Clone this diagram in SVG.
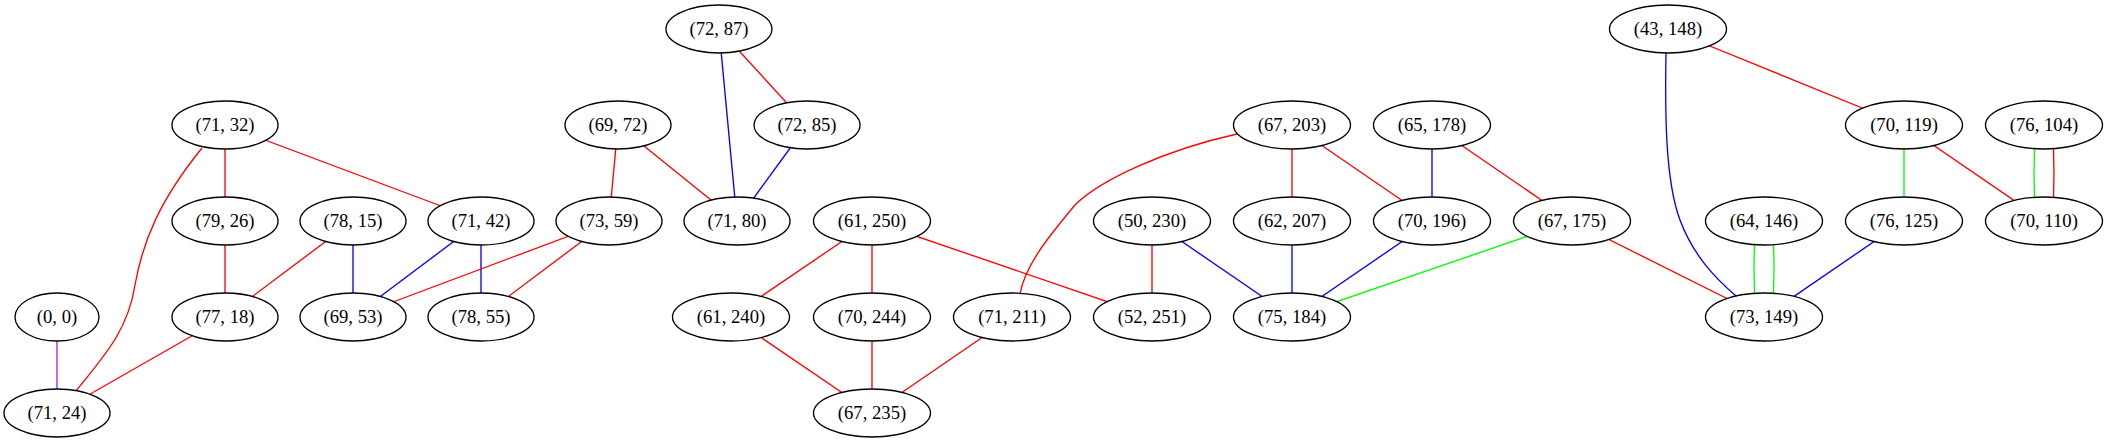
<svg xmlns="http://www.w3.org/2000/svg" width="2107" height="443" viewBox="0 0 2107 443">
<style>
.n ellipse{fill:#fff;stroke:#000;stroke-width:1.33}
.n text{font-family:'Liberation Serif','Times New Roman',serif;font-size:18.67px;text-anchor:middle;fill:#000}
.e path,.e line{fill:none;stroke-width:1.33}
.r{stroke:#ff0000}.b{stroke:#0000ff}.g{stroke:#00ff00}.p{stroke:#a020f0}
</style>
<rect width="2107" height="443" fill="#fff"/>
<g id="edges" class="e">
<line class="p" x1="57" y1="317" x2="57" y2="413"/>
<path class="r" d="M202,148 C160,200 143,240 135,285 C128,330 105,355 76,391"/>
<line class="r" x1="225" y1="317" x2="57" y2="413"/>
<line class="r" x1="225" y1="125" x2="225" y2="221"/>
<line class="r" x1="225" y1="125" x2="481" y2="221"/>
<line class="r" x1="225" y1="221" x2="225" y2="317"/>
<line class="r" x1="353" y1="221" x2="225" y2="317"/>
<line class="b" x1="353" y1="221" x2="353" y2="317"/>
<line class="b" x1="481" y1="221" x2="353" y2="317"/>
<line class="b" x1="481" y1="221" x2="481" y2="317"/>
<line class="r" x1="609" y1="221" x2="353" y2="317"/>
<line class="r" x1="609" y1="221" x2="481" y2="317"/>
<line class="r" x1="618" y1="125" x2="609" y2="221"/>
<line class="r" x1="618" y1="125" x2="737" y2="221"/>
<line class="b" x1="719" y1="29" x2="737" y2="221"/>
<line class="r" x1="719" y1="29" x2="807" y2="125"/>
<line class="b" x1="807" y1="125" x2="737" y2="221"/>
<line class="r" x1="872" y1="221" x2="731" y2="317"/>
<line class="r" x1="872" y1="221" x2="872" y2="317"/>
<line class="r" x1="872" y1="221" x2="1152" y2="317"/>
<line class="r" x1="731" y1="317" x2="872" y2="413"/>
<line class="r" x1="872" y1="317" x2="872" y2="413"/>
<line class="r" x1="1012" y1="317" x2="872" y2="413"/>
<path class="r" d="M1237,134 C1165,150 1100,180 1075,205 C1050,235 1025,265 1020,294"/>
<line class="r" x1="1292" y1="125" x2="1292" y2="221"/>
<line class="r" x1="1292" y1="125" x2="1432" y2="221"/>
<line class="r" x1="1152" y1="221" x2="1152" y2="317"/>
<line class="b" x1="1152" y1="221" x2="1292" y2="317"/>
<line class="b" x1="1292" y1="221" x2="1292" y2="317"/>
<line class="b" x1="1432" y1="221" x2="1292" y2="317"/>
<line class="b" x1="1432" y1="125" x2="1432" y2="221"/>
<line class="r" x1="1432" y1="125" x2="1572" y2="221"/>
<line class="g" x1="1572" y1="221" x2="1292" y2="317"/>
<line class="r" x1="1572" y1="221" x2="1764" y2="317"/>
<path class="b" d="M1666,53 C1665,110 1665,180 1680,220 C1693,255 1715,278 1736,296"/>
<line class="r" x1="1668" y1="29" x2="1904" y2="125"/>
<path class="g" d="M1756,221 Q1752,269 1756,317"/>
<path class="g" d="M1772,221 Q1776,269 1772,317"/>
<line class="b" x1="1904" y1="221" x2="1764" y2="317"/>
<line class="g" x1="1904" y1="125" x2="1904" y2="221"/>
<line class="r" x1="1904" y1="125" x2="2044" y2="221"/>
<path class="g" d="M2036,125 Q2032,173 2036,221"/>
<path class="r" d="M2052,125 Q2056,173 2052,221"/>
</g>
<g id="n72_87" class="n"><ellipse cx="719" cy="29" rx="53" ry="24"/><text x="719" y="35">(72, 87)</text></g>
<g id="n43_148" class="n"><ellipse cx="1668" cy="29" rx="58.5" ry="24"/><text x="1668" y="35">(43, 148)</text></g>
<g id="n71_32" class="n"><ellipse cx="225" cy="125" rx="53" ry="24"/><text x="225" y="131">(71, 32)</text></g>
<g id="n69_72" class="n"><ellipse cx="618" cy="125" rx="53" ry="24"/><text x="618" y="131">(69, 72)</text></g>
<g id="n72_85" class="n"><ellipse cx="807" cy="125" rx="53" ry="24"/><text x="807" y="131">(72, 85)</text></g>
<g id="n67_203" class="n"><ellipse cx="1292" cy="125" rx="58.5" ry="24"/><text x="1292" y="131">(67, 203)</text></g>
<g id="n65_178" class="n"><ellipse cx="1432" cy="125" rx="58.5" ry="24"/><text x="1432" y="131">(65, 178)</text></g>
<g id="n70_119" class="n"><ellipse cx="1904" cy="125" rx="58.5" ry="24"/><text x="1904" y="131">(70, 119)</text></g>
<g id="n76_104" class="n"><ellipse cx="2044" cy="125" rx="58.5" ry="24"/><text x="2044" y="131">(76, 104)</text></g>
<g id="n79_26" class="n"><ellipse cx="225" cy="221" rx="53" ry="24"/><text x="225" y="227">(79, 26)</text></g>
<g id="n78_15" class="n"><ellipse cx="353" cy="221" rx="53" ry="24"/><text x="353" y="227">(78, 15)</text></g>
<g id="n71_42" class="n"><ellipse cx="481" cy="221" rx="53" ry="24"/><text x="481" y="227">(71, 42)</text></g>
<g id="n73_59" class="n"><ellipse cx="609" cy="221" rx="53" ry="24"/><text x="609" y="227">(73, 59)</text></g>
<g id="n71_80" class="n"><ellipse cx="737" cy="221" rx="53" ry="24"/><text x="737" y="227">(71, 80)</text></g>
<g id="n61_250" class="n"><ellipse cx="872" cy="221" rx="58.5" ry="24"/><text x="872" y="227">(61, 250)</text></g>
<g id="n50_230" class="n"><ellipse cx="1152" cy="221" rx="58.5" ry="24"/><text x="1152" y="227">(50, 230)</text></g>
<g id="n62_207" class="n"><ellipse cx="1292" cy="221" rx="58.5" ry="24"/><text x="1292" y="227">(62, 207)</text></g>
<g id="n70_196" class="n"><ellipse cx="1432" cy="221" rx="58.5" ry="24"/><text x="1432" y="227">(70, 196)</text></g>
<g id="n67_175" class="n"><ellipse cx="1572" cy="221" rx="58.5" ry="24"/><text x="1572" y="227">(67, 175)</text></g>
<g id="n64_146" class="n"><ellipse cx="1764" cy="221" rx="58.5" ry="24"/><text x="1764" y="227">(64, 146)</text></g>
<g id="n76_125" class="n"><ellipse cx="1904" cy="221" rx="58.5" ry="24"/><text x="1904" y="227">(76, 125)</text></g>
<g id="n70_110" class="n"><ellipse cx="2044" cy="221" rx="58.5" ry="24"/><text x="2044" y="227">(70, 110)</text></g>
<g id="n0_0" class="n"><ellipse cx="57" cy="317" rx="42" ry="24"/><text x="57" y="323">(0, 0)</text></g>
<g id="n77_18" class="n"><ellipse cx="225" cy="317" rx="53" ry="24"/><text x="225" y="323">(77, 18)</text></g>
<g id="n69_53" class="n"><ellipse cx="353" cy="317" rx="53" ry="24"/><text x="353" y="323">(69, 53)</text></g>
<g id="n78_55" class="n"><ellipse cx="481" cy="317" rx="53" ry="24"/><text x="481" y="323">(78, 55)</text></g>
<g id="n61_240" class="n"><ellipse cx="731" cy="317" rx="58.5" ry="24"/><text x="731" y="323">(61, 240)</text></g>
<g id="n70_244" class="n"><ellipse cx="872" cy="317" rx="58.5" ry="24"/><text x="872" y="323">(70, 244)</text></g>
<g id="n71_211" class="n"><ellipse cx="1012" cy="317" rx="58.5" ry="24"/><text x="1012" y="323">(71, 211)</text></g>
<g id="n52_251" class="n"><ellipse cx="1152" cy="317" rx="58.5" ry="24"/><text x="1152" y="323">(52, 251)</text></g>
<g id="n75_184" class="n"><ellipse cx="1292" cy="317" rx="58.5" ry="24"/><text x="1292" y="323">(75, 184)</text></g>
<g id="n73_149" class="n"><ellipse cx="1764" cy="317" rx="58.5" ry="24"/><text x="1764" y="323">(73, 149)</text></g>
<g id="n71_24" class="n"><ellipse cx="57" cy="413" rx="53" ry="24"/><text x="57" y="419">(71, 24)</text></g>
<g id="n67_235" class="n"><ellipse cx="872" cy="413" rx="58.5" ry="24"/><text x="872" y="419">(67, 235)</text></g>
</svg>
